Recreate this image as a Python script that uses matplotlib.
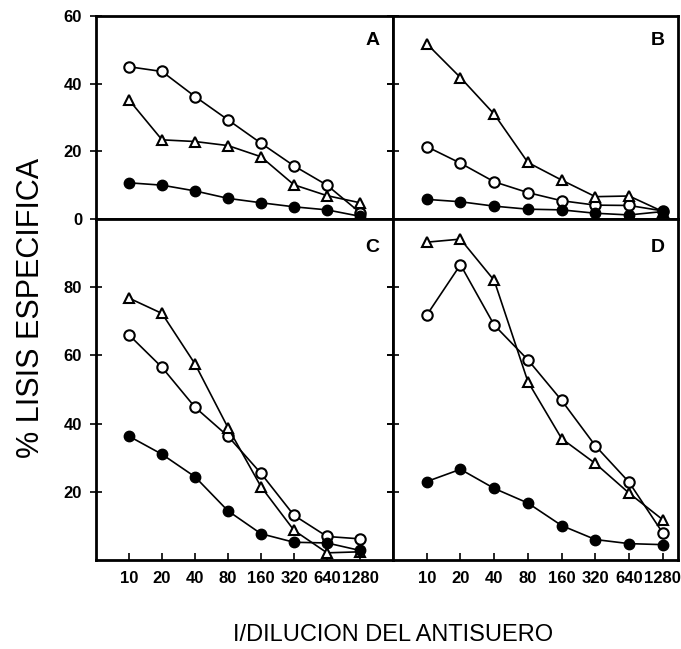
import numpy as np
import matplotlib
matplotlib.use("Agg")
import matplotlib.pyplot as plt

# ---------------------------------------------------------------------------
# data (% lisis especifica vs 1/dilucion)
# ---------------------------------------------------------------------------
diluciones = ["10", "20", "40", "80", "160", "320", "640", "1280"]

a_abierto = [45, 43.6, 36.2, 29.3, 22.4, 15.7, 10.0, 1.9]
a_triang = [35.2, 23.4, 22.9, 21.7, 18.4, 10.1, 6.9, 4.8]
a_lleno = [10.7, 10.0, 8.3, 6.1, 4.8, 3.6, 2.7, 0.8]

b_abierto = [21.4, 16.5, 11.0, 7.8, 5.4, 4.1, 4.0, 2.4]
b_triang = [51.8, 41.8, 31.0, 16.7, 11.5, 6.6, 6.8, 2.2]
b_lleno = [5.8, 5.1, 3.8, 2.9, 2.7, 1.7, 1.2, 2.2]

c_abierto = [66.0, 56.5, 44.8, 36.3, 25.4, 13.1, 6.9, 6.2]
c_triang = [76.8, 72.3, 57.5, 38.8, 21.5, 8.7, 2.1, 2.4]
c_lleno = [36.3, 31.0, 24.4, 14.4, 7.7, 5.2, 5.0, 2.8]

d_abierto = [71.8, 86.6, 68.9, 58.7, 46.8, 33.5, 22.8, 7.9]
d_triang = [93.2, 94.1, 82.0, 52.3, 35.6, 28.3, 19.6, 11.8]
d_lleno = [23.0, 26.6, 21.0, 16.7, 10.1, 6.0, 4.8, 4.5]

paneles = {
    "A": (a_abierto, a_triang, a_lleno),
    "B": (b_abierto, b_triang, b_lleno),
    "C": (c_abierto, c_triang, c_lleno),
    "D": (d_abierto, d_triang, d_lleno),
}

# ---------------------------------------------------------------------------
# layout
# ---------------------------------------------------------------------------
plt.rcParams['font.family'] = ['Liberation Sans', 'DejaVu Sans']

fig = plt.figure(figsize=(6.81, 6.49), dpi=100)

x0, xm, x1 = 96 / 681, 393 / 681, 678 / 681
y_top, y_mid, y_bot = 1 - 16 / 649, 1 - 219 / 649, 1 - 560 / 649

ax_a = fig.add_axes([x0, y_mid, xm - x0, y_top - y_mid])
ax_b = fig.add_axes([xm, y_mid, x1 - xm, y_top - y_mid])
ax_c = fig.add_axes([x0, y_bot, xm - x0, y_mid - y_bot])
ax_d = fig.add_axes([xm, y_bot, x1 - xm, y_mid - y_bot])

axes = {"A": ax_a, "B": ax_b, "C": ax_c, "D": ax_d}
x = np.arange(len(diluciones))

for letra, ax in axes.items():
    abierto, triang, lleno = paneles[letra]
    ax.plot(x, abierto, '-o', color='black', lw=1.2, ms=7.5,
            mfc='white', mec='black', mew=1.5, zorder=3)
    ax.plot(x, triang, '-^', color='black', lw=1.2, ms=7.5,
            mfc='white', mec='black', mew=1.5, zorder=3)
    ax.plot(x, lleno, '-o', color='black', lw=1.2, ms=7.5,
            mfc='black', mec='black', zorder=3)

    for s in ax.spines.values():
        s.set_linewidth(2)

    ax.text(0.93, 0.88 if letra in "AB" else 0.915, letra, transform=ax.transAxes,
            ha='center', va='center', fontsize=14, fontweight='bold')

    if letra in "AC":
        ax.set_xlim(-1, 8)
    else:
        ax.set_xlim(-1, 7.45)

# y scales
for ax in (ax_a, ax_b):
    ax.set_ylim(0, 60)
    ax.set_yticks([0, 20, 40, 60])
    ax.set_xticks([])
for ax in (ax_c, ax_d):
    ax.set_ylim(0, 100)
    ax.set_yticks([20, 40, 60, 80])
    ax.set_xticks(x)
    ax.set_xticklabels(diluciones, fontsize=12, fontweight='bold')
    ax.tick_params(axis='x', direction='in', length=5, width=1.2, pad=8)

for ax in (ax_a, ax_c):
    ax.tick_params(axis='y', direction='inout', length=8, width=1.2,
                   labelsize=12, right=True, pad=6)
    for lab in ax.get_yticklabels():
        lab.set_fontweight('bold')
for ax in (ax_b, ax_d):
    ax.tick_params(axis='y', direction='inout', length=8, width=1.2,
                   labelleft=False)

fig.text(0.045, 1 - 308 / 649, "% LISIS ESPECIFICA", rotation=90, ha='center',
         va='center', fontsize=22)
fig.text(393 / 681, 1 - 635 / 649, "I/DILUCION DEL ANTISUERO", ha='center',
         va='center', fontsize=17)

fig.savefig("out.png", dpi=100)
